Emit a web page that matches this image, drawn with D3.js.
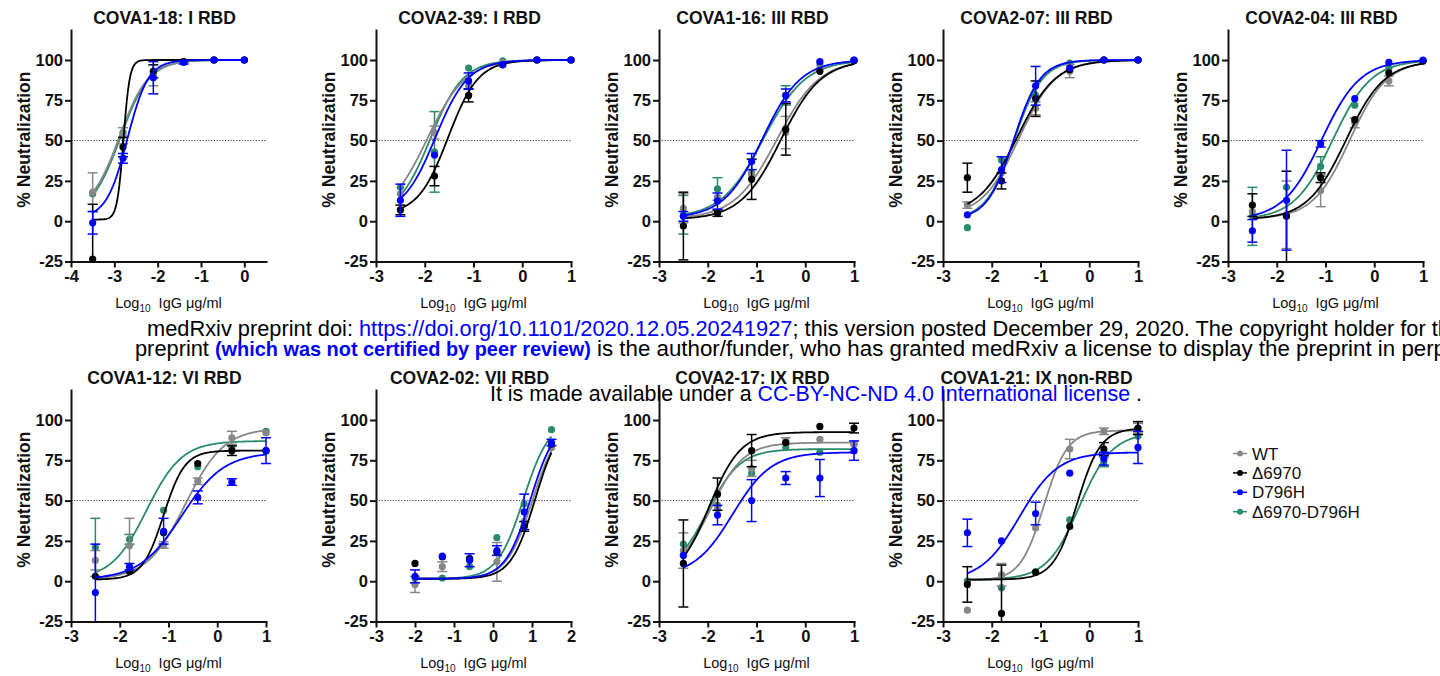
<!DOCTYPE html>
<html>
<head>
<meta charset="utf-8">
<script src="https://cdn.jsdelivr.net/npm/d3@7"></script>
<style>
body { margin: 0; background: #fff; overflow: hidden; }
svg { display: block; font-family: "Liberation Sans", Arial, sans-serif; }
</style>
</head>
<body>
<svg id="chart" width="1440" height="676"></svg>
<script>
// panel titles and dose levels (log10 ug/ml)
var titles = ['COVA1-18: I RBD', 'COVA2-39: I RBD', 'COVA1-16: III RBD', 'COVA2-07: III RBD', 'COVA2-04: III RBD',
              'COVA1-12: VI RBD', 'COVA2-02: VII RBD', 'COVA2-17: IX RBD', 'COVA1-21: IX non-RBD'];
var doseA = [-3.5, -2.8, -2.1, -1.4, -0.7, 0];
var doseB = [-2.5, -1.8, -1.1, -0.4, 0.3, 1.0];
var doseC = [-2.0, -1.3, -0.6, 0.1, 0.8, 1.5];
var doses = [doseA, doseB, doseB, doseB, doseB, doseB, doseC, doseB, doseB];
var xDomains = [[-4, 0.5], [-3, 1], [-3, 1], [-3, 1], [-3, 1], [-3, 1], [-3, 2], [-3, 1], [-3, 1]];
var xTicksA = [-4, -3, -2, -1, 0];
var xTicksB = [-3, -2, -1, 0, 1];
var xTicksC = [-3, -2, -1, 0, 1, 2];
var xTicks = [xTicksA, xTicksB, xTicksB, xTicksB, xTicksB, xTicksB, xTicksC, xTicksB, xTicksB];
var yTicks = [-25, 0, 25, 50, 75, 100];

var seriesNames = ['WT', 'Δ6970', 'D796H', 'Δ6970-D796H'];
var seriesColors = ['#878787', '#000000', '#0000ff', '#2b8a6e'];

// means per panel
var wtMean = [
  [18, 53, 92, 99, 100, 100], [17, 55, 84, 98.5, 100, 100], [8, 15, 29, 55, 95, 99.5],
  [10, 30, 70, 93, 100, 100], [6, 4, 19, 61, 87, 99], [13, 22, 22.5, 62, 89, 92],
  [-2, 9, 14, 12, 37, 83], [19, 45, 70, 87, 88, 85], [-18, 4, 33, 82, 93, 95]];
var d6970Mean = [
  [-23.5, 46, 93, 99, 100, 100], [7, 28, 78, 97, 100, 100], [-3, 5, 26, 57, 93, 99.5],
  [27, 25, 76, 94, 100, 100], [10, 3, 27, 63, 92, 99.5], [3, 6, 30, 73, 81, 81],
  [11, 15, 14, 18, 34, 85], [11, 54, 81, 86, 96, 95], [-2, -20, 5.5, 34, 82, 95]];
var d796hMean = [
  [-1, 39, 89, 98.5, 100, 100], [13, 41, 87, 97, 100, 100], [3, 12.5, 37, 78, 99, 100],
  [4, 32, 84, 95, 100, 100], [-6, 13, 48, 76, 98.5, 100], [-7, 9, 31, 52, 61.5, 81],
  [3, 15.5, 13, 19, 43, 86], [16, 41, 50, 64, 64, 81], [30, 25, 42, 67, 76, 83]];
var dblMean = [
  [17, 55, 91, 99, 100, 100], [21, 43, 95, 99.5, 100, 100], [4, 20, 30, 78, 97.5, 100],
  [-4, 38, 78, 98, 100, 100], [3, 21, 34, 72, 95, 99.5], [21, 26, 44, 71, 83, 93],
  [2, 2, 9, 27, 48, 94], [23, 47, 67, 83, 80, 85], [0, -4, 6, 38, 74, 90]];

// error (SD) per panel
var wtErr = [
  [12, 5, 8, 1, 0, 0], [0, 4, 0, 0, 0, 0], [9, 0, 0, 10, 0, 0],
  [2, 0, 4, 4, 0, 0], [0, 21, 10, 3, 3, 0], [6, 17, 2, 2, 4, 0],
  [5, 3, 0, 12, 0, 0], [11, 0, 5, 2, 0, 0], [0, 7, 0, 6, 2, 3]];
var d6970Err = [
  [34, 6, 4, 0, 0, 0], [3, 6, 4, 0, 0, 0], [21, 2, 12.5, 16, 0, 0],
  [9, 5, 11, 0, 0, 0], [7, 28, 3, 0, 0, 0], [0, 0, 0, 0, 3, 0],
  [0, 0, 0, 0, 3, 0], [27, 10, 10, 0, 0, 3], [11, 30, 0, 0, 4, 4]];
var d796hErr = [
  [7, 3, 10, 1, 0, 0], [10, 0, 5, 0, 0, 0], [3, 5, 5, 4, 0, 0],
  [0, 8, 12, 0, 0, 0], [7, 31, 2, 0, 0, 0], [30, 2, 8, 4, 2, 8],
  [4, 0, 4, 3, 11, 2], [0, 6, 13, 4, 11.5, 6], [8.5, 0, 7, 0, 4, 10]];
var dblErr = [
  [0, 0, 0, 0, 0, 0], [0, 25, 0, 0, 0, 0], [12, 7, 0, 6, 0, 0],
  [0, 0, 0, 0, 0, 0], [18, 0, 6, 0, 0, 0], [18, 3, 0, 0, 0, 0],
  [0, 0, 0, 0, 0, 0], [0, 0, 0, 0, 0, 0], [0, 0, 0, 0, 3, 0]];

// fitted curves: [bottom, top, logIC50, hill]
var wtFit = [
  [5, 100, -2.88, 1.3], [2, 100, -1.95, 1.1], [1.5, 100, -0.58, 1.0],
  [3, 100, -1.44, 1.15], [1.5, 99.5, -0.5, 1.15], [1, 95, -0.65, 1.1],
  [1.5, 100, 1.02, 1.3], [5, 86, -1.93, 1.3], [0.5, 93.5, -0.93, 1.8]];
var d6970Fit = [
  [1, 100, -2.79, 6], [4, 100, -1.52, 1.4], [1, 100, -0.5, 1.05],
  [4, 100, -1.48, 1.1], [1, 99.5, -0.58, 1.1], [1, 81, -1.1, 2.0],
  [1.5, 100, 1.08, 1.4], [0, 92.5, -1.97, 1.35], [1, 95, -0.25, 1.8]];
var d796hFit = [
  [2, 100, -2.70, 1.8], [4, 100, -1.78, 1.3], [2, 100, -0.88, 1.1],
  [1, 100, -1.55, 1.6], [1, 100, -1.08, 1.1], [1, 80, -0.73, 1.0],
  [1.5, 100, 0.96, 1.35], [3, 80, -1.49, 1.1], [0, 80, -1.43, 1.1]];
var dblFit = [
  [4, 100, -2.86, 1.3], [3, 100, -1.88, 1.3], [2, 100, -0.86, 1.0],
  [1, 100, -1.54, 1.5], [1, 100, -0.85, 1.1], [1, 87, -1.45, 1.2],
  [1.5, 100, 0.78, 1.3], [5, 82, -2.0, 1.3], [1, 92, -0.2, 1.3]];

var series = [
  {name: seriesNames[0], color: seriesColors[0], mean: wtMean, err: wtErr, fit: wtFit},
  {name: seriesNames[1], color: seriesColors[1], mean: d6970Mean, err: d6970Err, fit: d6970Fit},
  {name: seriesNames[2], color: seriesColors[2], mean: d796hMean, err: d796hErr, fit: d796hFit},
  {name: seriesNames[3], color: seriesColors[3], mean: dblMean, err: dblErr, fit: dblFit}
];
var drawOrder = [3, 0, 1, 2];

var svg = d3.select('#chart');
var colLeft = [71, 376, 659, 943, 1228];
var rowTop = [60, 420];   // pixel of y = 100
var plotW = 195, unitPx = 201.5 / 125;

function logistic(p, x) {
  return p[0] + (p[1] - p[0]) / (1 + Math.pow(10, (p[2] - x) * p[3]));
}

function drawPanel(i) {
  var row = i < 5 ? 0 : 1, col = i < 5 ? i : i - 5;
  var left = colLeft[col], top = rowTop[row];
  var x = d3.scaleLinear().domain(xDomains[i]).range([left, left + plotW]);
  var y = d3.scaleLinear().domain([-25, 118.6]).range([top + 125 * unitPx, top - 18.6 * unitPx]);
  var g = svg.append('g');

  g.append('line')
    .attr('x1', left).attr('x2', left + plotW)
    .attr('y1', y(50)).attr('y2', y(50))
    .attr('stroke', '#333').attr('stroke-width', 1).attr('stroke-dasharray', '1.2,1.6');

  var yAx = g.append('g').attr('transform', 'translate(' + left + ',0)')
    .call(d3.axisLeft(y).tickValues(yTicks).tickFormat(String).tickSize(6).tickSizeOuter(0).tickPadding(2));
  var xAx = g.append('g').attr('transform', 'translate(0,' + y(-25) + ')')
    .call(d3.axisBottom(x).tickValues(xTicks[i]).tickFormat(String).tickSize(6).tickSizeOuter(0).tickPadding(3));
  [yAx, xAx].forEach(function(a) {
    a.select('.domain').attr('stroke', '#111').attr('stroke-width', 2).attr('stroke-linecap', 'square');
    a.selectAll('.tick line').attr('stroke', '#111').attr('stroke-width', 2);
    a.selectAll('.tick text').attr('fill', '#111').style('font-size', '16.5px').style('font-weight', 'bold')
      .style('font-family', '"Liberation Sans", Arial, sans-serif');
  });

  g.append('text')
    .attr('transform', 'translate(' + (left - 41) + ',' + (y(50) - 1) + ') rotate(-90)')
    .attr('text-anchor', 'middle')
    .style('font-size', '17.5px').style('font-weight', 'bold').attr('fill', '#111')
    .text('% Neutralization');

  var xl = g.append('text')
    .attr('x', left + plotW / 2).attr('y', y(-25) + 46.5)
    .attr('text-anchor', 'middle').style('font-size', '14.5px').attr('fill', '#111');
  xl.append('tspan').text('Log');
  xl.append('tspan').attr('dy', 4).style('font-size', '10px').text('10');
  xl.append('tspan').attr('dy', -4).style('white-space', 'pre').text('  IgG μg/ml');

  g.append('text')
    .attr('x', left + plotW / 2 - 4).attr('y', top - 36)
    .attr('text-anchor', 'middle')
    .style('font-size', '17.5px').style('font-weight', 'bold').attr('fill', '#111')
    .text(titles[i]);

  var xs = doses[i];
  var yMin = -25;
  drawOrder.forEach(function(si) {
    var s = series[si];
    var fit = s.fit[i];
    var curvePts = d3.range(0, 121).map(function(k) {
      var xv = xs[0] + (xs[xs.length - 1] - xs[0]) * k / 120;
      return [xv, logistic(fit, xv)];
    });
    g.append('path')
      .attr('d', d3.line().x(function(d) { return x(d[0]); }).y(function(d) { return y(d[1]); })(curvePts))
      .attr('fill', 'none').attr('stroke', s.color).attr('stroke-width', 1.8);

    var pts = xs.map(function(xv, k) { return {x: xv, m: s.mean[i][k], e: s.err[i][k]}; });
    var eb = g.append('g').attr('stroke', s.color).attr('stroke-width', 1.5);
    pts.filter(function(d) { return d.e > 0; }).forEach(function(d) {
      var lo = Math.max(d.m - d.e, yMin), hi = d.m + d.e;
      eb.append('line').attr('x1', x(d.x)).attr('x2', x(d.x)).attr('y1', y(lo)).attr('y2', y(hi));
      eb.append('line').attr('x1', x(d.x) - 5).attr('x2', x(d.x) + 5).attr('y1', y(hi)).attr('y2', y(hi));
      if (d.m - d.e > yMin) {
        eb.append('line').attr('x1', x(d.x) - 5).attr('x2', x(d.x) + 5).attr('y1', y(lo)).attr('y2', y(lo));
      }
    });
    g.selectAll(null).data(pts).enter().append('circle')
      .attr('cx', function(d) { return x(d.x); })
      .attr('cy', function(d) { return y(d.m); })
      .attr('r', 3.6).attr('fill', s.color);
  });
}

for (var i = 0; i < titles.length; i++) drawPanel(i);

// legend
var leg = svg.append('g');
series.forEach(function(s, k) {
  var ly = 453.5 + k * 19.4;
  leg.append('line').attr('x1', 1233).attr('x2', 1247).attr('y1', ly).attr('y2', ly)
    .attr('stroke', s.color).attr('stroke-width', 1.5);
  leg.append('circle').attr('cx', 1240).attr('cy', ly).attr('r', 3).attr('fill', s.color);
  leg.append('text').attr('x', 1252).attr('y', ly + 6).style('font-size', '17px').attr('fill', '#111').text(s.name);
});

// medRxiv watermark (drawn over the panels, as in the source page)
var wm = svg.append('g').style('font-size', '21.8px').style('white-space', 'pre');
var l1 = wm.append('text').attr('x', 147).attr('y', 335.5);
l1.append('tspan').attr('fill', '#000').text('medRxiv preprint doi: ');
l1.append('tspan').attr('fill', '#0000ff').text('https://doi.org/10.1101/2020.12.05.20241927');
l1.append('tspan').attr('fill', '#000').text('; this version posted December 29, 2020. The copyright holder for this');
var l2 = wm.append('text').attr('x', 135).attr('y', 355.5);
l2.append('tspan').attr('fill', '#000').text('preprint  ');
l2.append('tspan').attr('fill', '#0000ff').style('font-weight', 'bold').style('font-size', '19.9px')
  .text('(which was not certified by peer review)');
l2.append('tspan').attr('fill', '#000').style('font-size', '22.3px')
  .text(' is the author/funder, who has granted medRxiv a license to display the preprint in perpetuity.');
var l3 = wm.append('text').attr('x', 490).attr('y', 400.5).style('font-size', '21.4px');
l3.append('tspan').attr('fill', '#000').text('It is made available under a ');
l3.append('tspan').attr('fill', '#0000ff').text('CC-BY-NC-ND 4.0 International license');
l3.append('tspan').attr('fill', '#000').text(' .');
</script>
</body>
</html>
